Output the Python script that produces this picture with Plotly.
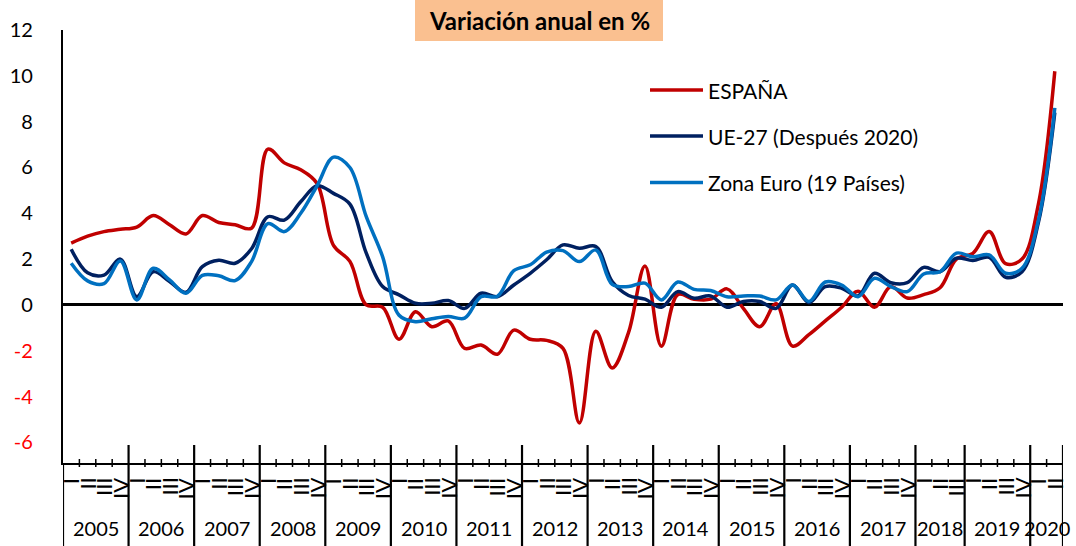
import plotly.graph_objects as go

# ---------------- data ----------------
years = ["2005", "2006", "2007", "2008", "2009", "2010", "2011", "2012",
         "2013", "2014", "2015", "2016", "2017", "2018", "2019", "2020"]
quarters_per_year = [4, 4, 4, 4, 4, 4, 4, 4, 4, 4, 4, 4, 4, 3, 4, 2]
quarter_labels = ["I", "II", "III", "IV"]

espana = [2.7, 3.0, 3.2, 3.3, 3.4, 3.9, 3.5, 3.1, 3.9, 3.6, 3.5, 3.35,
          6.8, 6.2, 5.9, 5.3, 2.6, 1.9, 0.0, -0.1, -1.5, -0.3, -0.95, -0.7,
          -1.9, -1.75, -2.15, -1.1, -1.5, -1.55, -1.9, -5.15, -1.15, -2.75, -1.2, 1.7,
          -1.8, 0.45, 0.25, 0.25, 0.7, -0.15, -0.95, 0.05, -1.8, -1.3, -0.7, -0.1,
          0.6, -0.1, 0.8, 0.3, 0.45, 0.75, 2.0, 2.25, 3.2, 1.8, 2.0, 4.4, 10.2]
ue27 = [2.43, 1.4, 1.3, 2.0, 0.36, 1.45, 1.02, 0.55, 1.67, 1.95, 1.82, 2.45,
        3.85, 3.7, 4.5, 5.2, 4.87, 4.4, 2.26, 0.8, 0.44, 0.07, 0.07, 0.19,
        -0.15, 0.51, 0.36, 0.87, 1.38, 1.97, 2.62, 2.47, 2.55, 1.02, 0.41, 0.25,
        -0.1, 0.58, 0.29, 0.39, -0.1, 0.15, 0.15, -0.15, 0.87, 0.1, 0.8, 0.73,
        0.39, 1.38, 0.97, 0.97, 1.64, 1.45, 2.04, 1.94, 2.08, 1.21, 1.45, 3.6, 8.4]
zona_euro = [1.82, 1.05, 0.93, 1.92, 0.22, 1.6, 1.09, 0.51, 1.29, 1.27, 1.06, 1.89,
             3.55, 3.2, 4.0, 5.2, 6.45, 6.0, 3.85, 2.1, -0.45, -0.73, -0.6, -0.5,
             -0.58, 0.36, 0.38, 1.5, 1.75, 2.3, 2.37, 1.89, 2.4, 0.9, 0.8, 0.95,
             0.22, 1.0, 0.68, 0.63, 0.36, 0.39, 0.39, 0.22, 0.87, 0.15, 1.0, 0.87,
             0.36, 1.16, 0.8, 0.58, 1.35, 1.45, 2.26, 2.1, 2.18, 1.38, 1.6, 3.7, 8.6]

series_names = ["ESPAÑA", "UE-27 (Después 2020)", "Zona Euro (19 Países)"]
series_colors = ["#C00000", "#002060", "#0070C0"]
y_ticks = [-6, -4, -2, 0, 2, 4, 6, 8, 10, 12]
title_text = "Variación anual en %"

# ---------------- build ----------------
FONT = "Lato"
W, H = 1076, 546
ML, MR, MT, MB = 63, 13, 30, 83
PH = H - MT - MB  # plot height in px


def py(px_y):
    """pixel y -> paper y"""
    return (H - MB - px_y) / PH


def pxp(px_x):
    """pixel x -> paper x"""
    return (px_x - ML) / (W - ML - MR)


n = sum(quarters_per_year)
x = list(range(n))

fig = go.Figure()
for name, vals, col in zip(series_names, [espana, ue27, zona_euro], series_colors):
    fig.add_trace(go.Scatter(x=x, y=vals, mode="lines", name=name,
                             line=dict(color=col, width=3.5, shape="spline", smoothing=1),
                             showlegend=False, hoverinfo="skip"))

shapes = []
annotations = []

# year blocks, quarter ticks and labels
start = 0
year_bounds = [-0.5]
for yr, cnt in zip(years, quarters_per_year):
    for q in range(cnt):
        idx = start + q
        annotations.append(dict(x=idx, y=py(476), xref="x", yref="paper",
                                text=quarter_labels[q], showarrow=False, textangle=-90,
                                xanchor="center", yanchor="top",
                                font=dict(family=FONT, size=22, color="black")))
        if q > 0:
            shapes.append(dict(type="line", xref="x", yref="paper",
                               x0=idx - 0.5, x1=idx - 0.5, y0=py(459), y1=py(467),
                               line=dict(color="black", width=1.5)))
    annotations.append(dict(x=start + (cnt - 1) / 2, y=py(528), xref="x", yref="paper",
                            text=yr, showarrow=False, xanchor="center", yanchor="middle",
                            font=dict(family=FONT, size=20, color="black")))
    start += cnt
    year_bounds.append(start - 0.5)

for i, b in enumerate(year_bounds):
    shapes.append(dict(type="line", xref="x", yref="paper", x0=b, x1=b,
                       y0=py(445) if i > 0 else py(463), y1=py(546),
                       line=dict(color="black", width=2.2)))

# title box
shapes.append(dict(type="rect", xref="paper", yref="paper",
                   x0=pxp(415), x1=pxp(663), y0=py(41), y1=py(-2),
                   fillcolor="#FAC090", line=dict(width=0), layer="below"))
annotations.append(dict(x=pxp(539), y=py(21), xref="paper", yref="paper",
                        text="<b>" + title_text + "</b>", showarrow=False,
                        xanchor="center", yanchor="middle",
                        font=dict(family=FONT, size=24, color="black")))

# legend (manual)
leg_y = [90, 136, 182.5]
for name, col, ly in zip(series_names, series_colors, leg_y):
    shapes.append(dict(type="line", xref="paper", yref="paper",
                       x0=pxp(650), x1=pxp(703), y0=py(ly), y1=py(ly),
                       line=dict(color=col, width=3.5)))
    annotations.append(dict(x=pxp(706), y=py(ly), xref="paper", yref="paper",
                            text=name, showarrow=False, xanchor="left", yanchor="middle",
                            font=dict(family=FONT, size=21, color="black")))

tick_text = [("<span style='color:#FF0000'>%d</span>" % v) if v < 0 else str(v) for v in y_ticks]

fig.update_layout(
    width=W, height=H,
    margin=dict(l=ML, r=MR, t=MT, b=MB, autoexpand=False),
    paper_bgcolor="white", plot_bgcolor="white",
    shapes=shapes, annotations=annotations,
    xaxis=dict(range=[-0.5, n - 0.5], showgrid=False, zeroline=False,
               showticklabels=False, ticks="", showline=True,
               linecolor="black", linewidth=2, automargin=False),
    yaxis=dict(range=[-6.9, 12], tickvals=y_ticks, ticktext=tick_text,
               showgrid=False, zeroline=True, zerolinecolor="black", zerolinewidth=2.5,
               showline=True, linecolor="black", linewidth=2.2, ticks="",
               ticklabelstandoff=24, automargin=False,
               tickfont=dict(family=FONT, size=20, color="black")),
    font=dict(family=FONT),
)

fig.write_html("out.html", config={"displayModeBar": False},
               post_script="document.body.style.margin='0';document.body.style.overflow='hidden';")
